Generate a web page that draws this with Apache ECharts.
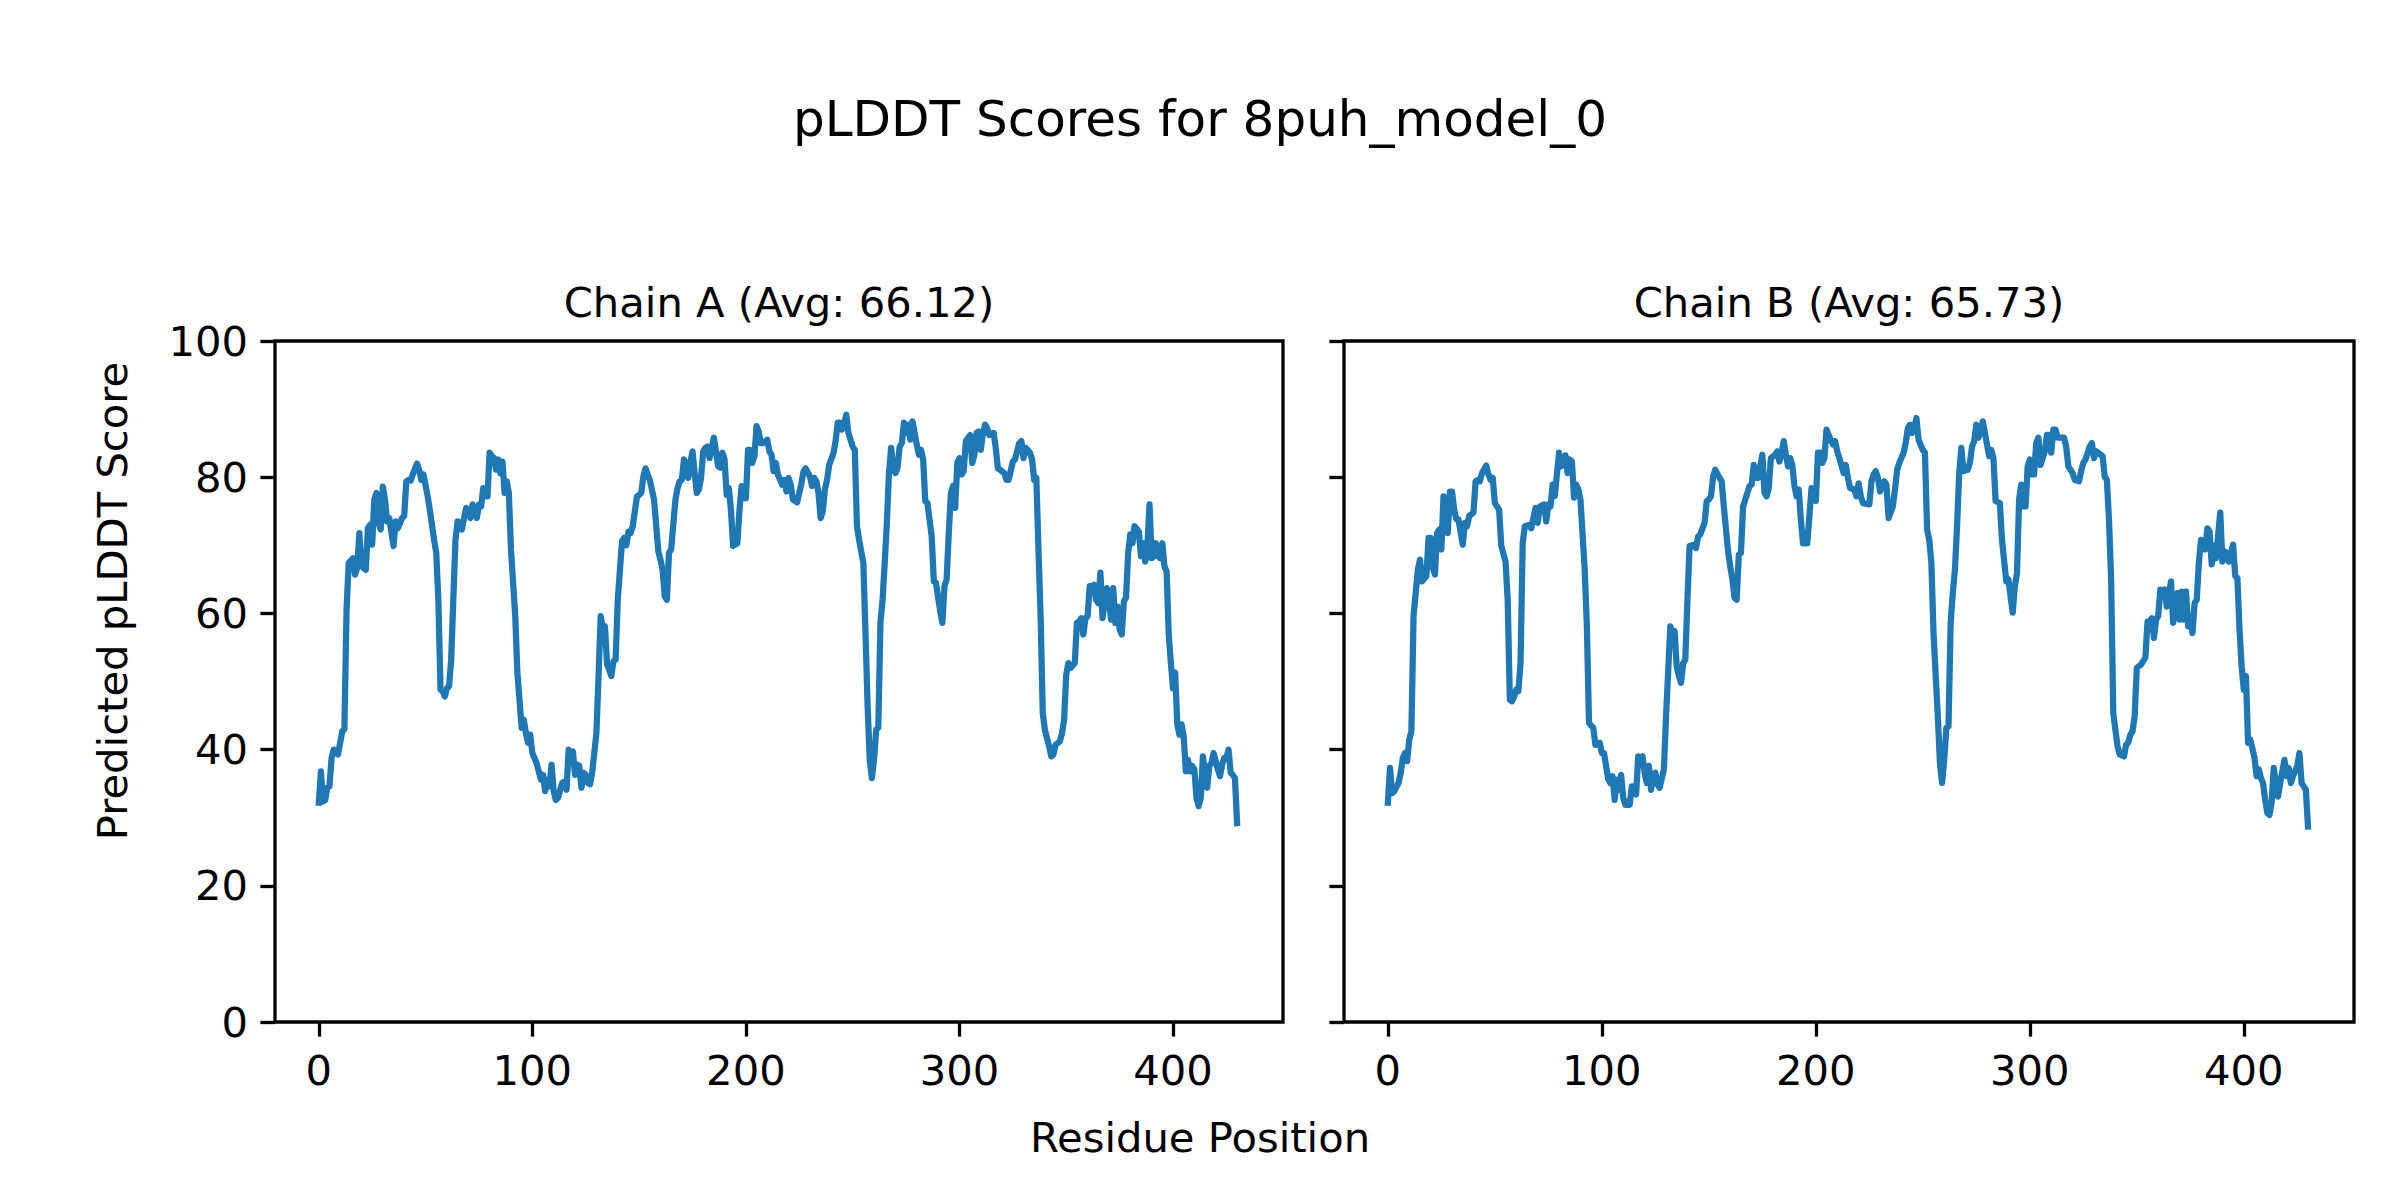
<!DOCTYPE html>
<html>
<head>
<meta charset="utf-8">
<script src="https://cdn.jsdelivr.net/npm/echarts@6/dist/echarts.min.js"></script>
<style>
html,body{margin:0;padding:0;background:#fff;}
#chart{width:2400px;height:1200px;}
</style>
</head>
<body>
<div id="chart"></div>
<script>
const figTitle = 'pLDDT Scores for 8puh_model_0';
const chainTitles = ['Chain A (Avg: 66.12)', 'Chain B (Avg: 65.73)'];
const xLabel = 'Residue Position';
const yLabel = 'Predicted pLDDT Score';
const xTicks = [0, 100, 200, 300, 400];
const yTicks = [0, 20, 40, 60, 80, 100];

// [residue position, pLDDT score]
const chainA = [[0,32.2],[1,36.8],[2,32.4],[3,32.6],[4,34.4],[5,34.6],[6,38.8],[7,40.0],[9,39.3],[11,42.7],[12,43.0],[13,60.5],[14,67.4],[16,68.1],[17,65.7],[18,66.7],[19,71.8],[20,66.9],[22,66.4],[23,72.5],[24,73.0],[25,70.1],[26,76.7],[27,77.7],[28,73.3],[29,72.3],[30,78.6],[31,76.7],[32,73.5],[33,74.0],[35,69.9],[36,73.5],[37,72.5],[39,74.0],[40,74.3],[41,79.4],[42,79.6],[43,79.5],[44,80.4],[46,82.0],[47,81.1],[48,79.6],[49,80.4],[51,77.2],[52,75.2],[54,70.8],[55,68.9],[56,62.0],[57,48.8],[58,48.6],[59,47.8],[60,49.0],[61,49.3],[62,53.2],[64,70.8],[65,73.5],[66,73.3],[67,72.3],[68,74.0],[69,75.5],[71,74.0],[72,76.0],[74,74.0],[75,76.0],[76,75.7],[77,78.4],[78,77.2],[79,77.2],[80,83.6],[81,83.1],[82,82.8],[83,81.1],[84,82.6],[85,80.6],[86,82.3],[87,77.7],[88,79.4],[89,77.7],[90,69.4],[92,59.6],[93,51.3],[95,43.2],[96,44.4],[97,42.4],[98,41.0],[99,42.2],[100,39.5],[102,38.0],[104,35.6],[105,36.3],[106,33.9],[107,35.6],[108,34.6],[109,37.8],[110,33.9],[111,32.6],[112,32.9],[114,35.1],[115,35.3],[116,34.1],[117,40.0],[118,39.5],[119,39.7],[120,36.3],[121,37.8],[122,37.6],[123,34.4],[124,36.6],[125,36.3],[126,35.1],[127,34.9],[128,36.6],[130,42.4],[131,50.8],[132,59.6],[133,57.9],[134,58.1],[135,52.5],[136,51.7],[137,50.8],[138,53.0],[139,53.2],[140,62.0],[142,70.6],[143,71.1],[144,70.0],[145,72.0],[146,71.8],[147,72.8],[149,77.2],[150,77.4],[151,77.7],[152,80.1],[153,81.3],[154,80.4],[155,79.6],[157,76.7],[159,69.1],[160,67.9],[161,66.4],[162,62.5],[163,62.0],[164,68.9],[165,69.4],[167,76.7],[168,78.4],[169,79.4],[170,79.6],[171,82.6],[172,81.8],[173,79.9],[174,82.1],[175,83.8],[176,80.6],[177,77.7],[178,78.2],[179,79.9],[180,83.8],[181,84.3],[182,84.5],[183,82.8],[184,84.3],[185,85.8],[186,83.8],[187,81.6],[188,81.4],[189,83.6],[190,82.6],[191,77.4],[192,78.4],[193,75.2],[194,69.9],[195,70.1],[196,70.3],[197,75.2],[198,78.7],[199,78.4],[200,76.9],[201,84.0],[202,84.0],[203,82.1],[204,83.1],[205,87.5],[206,86.7],[207,85.0],[208,85.0],[210,85.5],[211,83.8],[212,83.3],[213,80.9],[214,82.1],[215,80.4],[217,78.9],[218,79.6],[219,77.9],[220,79.9],[221,78.9],[222,76.7],[224,76.3],[226,79.1],[227,80.9],[228,81.3],[230,80.1],[231,78.7],[232,79.9],[233,79.4],[234,77.7],[235,74.0],[236,75.0],[237,78.2],[238,79.6],[239,81.8],[241,83.5],[242,85.3],[243,88.0],[244,88.0],[245,87.0],[246,87.7],[247,89.2],[248,86.5],[250,84.5],[251,84.0],[252,72.8],[253,70.8],[255,67.4],[256,57.1],[257,46.4],[258,38.5],[259,35.8],[260,38.5],[261,42.9],[262,43.2],[263,58.6],[264,62.0],[265,67.4],[266,73.3],[267,80.6],[268,84.3],[269,81.6],[270,80.6],[271,81.4],[272,84.5],[273,85.0],[274,88.0],[275,86.5],[276,87.7],[277,85.5],[278,88.2],[279,86.5],[280,84.8],[281,83.3],[282,84.0],[283,82.6],[284,76.5],[285,76.2],[287,71.3],[288,64.7],[289,64.5],[291,60.3],[292,58.6],[293,64.0],[294,65.0],[295,71.8],[296,77.7],[297,78.7],[298,75.5],[299,82.1],[300,82.8],[301,80.4],[302,80.9],[303,85.3],[305,86.2],[306,82.1],[307,83.3],[308,86.5],[309,86.7],[310,84.0],[311,86.5],[312,87.7],[313,87.2],[314,86.2],[316,86.5],[317,84.3],[318,81.3],[319,81.1],[321,80.6],[322,79.6],[323,79.6],[324,80.9],[325,82.3],[326,82.6],[328,85.0],[329,85.3],[330,82.8],[331,84.3],[332,84.0],[333,83.6],[334,82.6],[335,79.6],[336,79.9],[337,69.4],[338,59.6],[339,45.4],[340,42.9],[342,40.5],[343,39.0],[344,39.3],[345,40.7],[347,41.2],[348,42.4],[349,44.4],[350,51.0],[351,52.7],[352,52.0],[354,52.7],[355,58.6],[356,58.8],[357,59.3],[358,56.9],[359,59.3],[360,59.6],[361,64.0],[362,64.0],[363,64.2],[364,62.0],[365,61.5],[366,66.0],[367,59.3],[368,61.8],[369,63.7],[370,62.0],[371,59.1],[372,63.7],[373,58.6],[374,61.0],[375,57.6],[376,56.9],[377,61.8],[378,62.3],[379,68.9],[380,71.6],[381,70.3],[382,72.8],[384,72.0],[385,68.4],[386,70.3],[387,67.6],[388,69.9],[389,76.0],[390,68.1],[391,68.4],[392,70.3],[393,68.4],[394,68.1],[395,70.3],[396,66.9],[397,66.2],[398,56.9],[399,52.7],[400,49.0],[401,51.3],[402,43.7],[403,42.2],[404,43.7],[405,42.0],[406,36.8],[407,38.5],[408,36.8],[409,37.6],[410,37.1],[411,32.9],[412,31.7],[413,32.9],[414,39.0],[415,36.6],[416,34.4],[417,37.6],[418,38.0],[419,39.5],[421,37.1],[422,36.1],[423,37.8],[424,38.8],[425,38.8],[426,40.0],[427,36.6],[428,36.3],[429,35.8],[430,29.2]];

const chainB = [[0,32.2],[1,37.3],[2,33.6],[3,33.9],[5,35.1],[6,36.6],[7,38.8],[8,39.5],[9,38.3],[10,41.5],[11,42.7],[12,59.6],[14,66.4],[15,67.9],[16,64.7],[18,65.5],[19,71.1],[20,71.1],[21,66.7],[22,65.7],[23,71.8],[24,72.3],[25,69.4],[26,77.2],[27,72.8],[28,71.8],[29,77.9],[30,77.9],[31,75.2],[32,73.8],[33,73.8],[35,70.1],[36,73.3],[37,72.8],[38,74.3],[40,74.8],[41,79.4],[42,79.6],[43,79.4],[44,80.6],[46,81.7],[47,80.4],[48,79.6],[49,79.9],[50,76.2],[52,75.2],[53,69.9],[55,67.6],[56,62.0],[57,47.3],[58,47.1],[59,47.8],[60,48.8],[61,48.6],[62,52.7],[63,70.3],[64,72.8],[66,73.0],[67,72.5],[69,75.5],[70,73.3],[71,75.7],[73,76.0],[74,73.5],[75,76.0],[76,75.7],[77,78.9],[78,77.2],[79,80.4],[80,83.6],[81,81.6],[83,83.2],[84,80.6],[85,82.6],[86,82.3],[87,77.0],[88,78.9],[89,78.2],[90,76.7],[92,66.4],[93,58.1],[94,43.9],[96,43.2],[97,40.7],[99,41.0],[100,39.5],[101,39.5],[103,35.6],[104,35.1],[105,36.1],[106,32.6],[107,35.6],[108,34.1],[109,36.3],[110,32.9],[111,31.9],[113,31.9],[114,34.6],[115,34.6],[116,33.4],[117,39.0],[118,38.8],[119,39.0],[120,36.6],[121,35.1],[122,37.6],[123,34.1],[124,36.3],[125,36.6],[126,34.9],[127,34.4],[129,37.1],[130,44.9],[132,58.1],[133,57.1],[134,57.4],[135,52.2],[136,50.8],[137,49.8],[138,52.7],[139,53.2],[140,62.0],[141,69.9],[143,70.1],[144,69.6],[145,71.3],[146,71.6],[148,73.3],[149,76.5],[150,76.7],[151,77.2],[152,80.1],[153,81.1],[155,79.9],[156,79.4],[157,75.7],[159,69.1],[160,66.9],[161,65.0],[162,62.3],[163,62.0],[164,68.6],[165,68.9],[166,75.7],[168,77.7],[169,78.7],[170,78.9],[171,81.8],[172,79.9],[173,79.9],[175,83.3],[176,77.7],[177,77.2],[178,78.4],[179,82.8],[181,83.3],[182,83.8],[183,82.3],[184,83.6],[185,85.3],[186,83.3],[187,81.6],[188,82.8],[189,81.8],[190,78.7],[191,77.2],[192,78.2],[193,73.8],[194,70.3],[195,70.3],[196,70.3],[197,74.3],[198,78.4],[199,78.2],[200,76.5],[201,83.6],[202,83.6],[203,82.1],[204,82.8],[205,87.0],[206,86.2],[208,84.8],[209,85.3],[210,83.8],[211,82.8],[213,80.6],[214,81.8],[215,79.9],[216,78.4],[218,78.2],[219,77.2],[220,79.1],[221,77.2],[222,76.2],[225,76.0],[226,79.4],[227,80.4],[228,80.9],[229,79.9],[230,77.9],[232,79.4],[233,78.9],[234,74.0],[236,75.7],[237,78.2],[238,81.1],[239,82.1],[241,83.6],[242,85.0],[243,87.2],[244,87.7],[245,86.5],[246,87.2],[247,88.7],[248,85.5],[250,84.0],[251,83.6],[252,72.3],[253,70.8],[254,67.4],[255,57.1],[257,44.9],[258,38.0],[259,35.1],[260,38.5],[261,43.2],[262,43.4],[263,58.6],[264,63.0],[265,66.4],[266,72.8],[267,80.6],[268,84.3],[269,80.9],[271,81.1],[272,82.1],[273,84.5],[274,85.3],[275,87.7],[276,85.8],[277,86.7],[278,88.2],[279,86.5],[280,84.8],[281,83.1],[282,84.0],[283,82.8],[284,76.5],[286,76.2],[287,70.8],[289,64.7],[290,65.0],[291,62.5],[292,60.1],[293,64.0],[294,65.9],[295,76.7],[296,78.9],[297,75.7],[298,75.7],[299,81.6],[300,82.6],[301,80.4],[302,80.4],[303,85.0],[304,85.8],[305,81.8],[307,83.8],[308,86.2],[309,86.2],[310,83.6],[311,87.0],[312,87.0],[313,85.8],[316,85.8],[317,84.5],[318,81.6],[320,80.6],[321,79.6],[323,79.4],[324,80.9],[325,82.1],[326,82.6],[328,84.5],[329,85.0],[330,82.8],[331,83.8],[332,83.6],[334,83.1],[335,80.1],[336,79.6],[337,73.8],[338,65.0],[339,45.4],[340,42.9],[341,40.5],[342,39.3],[344,39.0],[345,40.7],[346,41.0],[347,42.2],[348,42.7],[349,44.9],[350,52.0],[352,52.5],[353,53.0],[354,53.5],[355,58.8],[356,58.8],[357,59.3],[358,56.4],[359,59.1],[360,59.6],[361,63.5],[362,63.2],[363,63.5],[364,61.0],[366,64.7],[367,58.6],[368,61.5],[369,63.0],[370,59.1],[371,63.2],[372,59.1],[373,63.2],[374,58.1],[375,59.6],[376,57.1],[377,61.5],[378,62.0],[379,67.4],[380,70.8],[382,69.4],[383,72.5],[384,72.0],[385,67.2],[386,69.9],[387,68.1],[389,74.8],[390,67.6],[391,69.1],[392,68.9],[393,67.6],[395,70.1],[396,65.5],[397,65.2],[398,57.6],[399,52.2],[400,48.8],[401,50.8],[402,41.0],[403,41.5],[404,40.2],[405,38.8],[406,36.1],[407,37.1],[408,35.8],[409,35.1],[410,32.6],[411,30.7],[412,30.4],[413,32.2],[414,37.3],[415,34.9],[416,33.1],[417,35.1],[419,38.5],[420,36.1],[421,37.3],[422,35.1],[423,36.1],[425,37.6],[426,39.5],[427,35.1],[428,34.6],[429,34.1],[430,28.7]];

const chains = [chainA, chainB];

const FONT = 'DejaVu Sans';
const LINE_COLOR = '#1f77b4';
const grids = [
  {left: 275, top: 341, width: 1008, height: 681},
  {left: 1344, top: 341, width: 1010, height: 681}
];

const chart = echarts.init(document.getElementById('chart'), null, {renderer: 'svg', width: 2400, height: 1200});

const option = {
  animation: false,
  backgroundColor: '#ffffff',
  grid: grids.map(g => Object.assign({show: true, borderColor: '#000', borderWidth: 3.3, backgroundColor: 'transparent', containLabel: false}, g)),
  xAxis: grids.map((g, i) => ({
    type: 'value', gridIndex: i, min: -20.5, max: 451.5, position: 'bottom',
    axisLine: {show: false, onZero: false},
    splitLine: {show: false},
    axisTick: {show: true, inside: false, length: 14.6, customValues: xTicks, lineStyle: {color: '#000', width: 3.3}},
    axisLabel: {show: true, customValues: xTicks, margin: 27, fontSize: 41.7, color: '#000', fontFamily: FONT}
  })),
  yAxis: grids.map((g, i) => ({
    type: 'value', gridIndex: i, min: 0, max: 100, interval: 20, position: 'left',
    axisLine: {show: false, onZero: false},
    splitLine: {show: false},
    axisTick: {show: true, inside: false, length: 14.6, lineStyle: {color: '#000', width: 3.3}},
    axisLabel: {show: i === 0, margin: 27, fontSize: 41.7, color: '#000', fontFamily: FONT}
  })),
  series: chains.map((d, i) => ({
    type: 'line', xAxisIndex: i, yAxisIndex: i,
    data: d, showSymbol: false, symbol: 'none',
    lineStyle: {color: LINE_COLOR, width: 6.25, join: 'round', cap: 'square'},
    emphasis: {disabled: true},
    z: 1
  })),
  graphic: [
    {type: 'text', x: 1200, y: 119, style: {text: figTitle, fontSize: 50, fontFamily: FONT, fill: '#000', textAlign: 'center', textVerticalAlign: 'middle'}},
    {type: 'text', x: grids[0].left + grids[0].width / 2, y: 302, style: {text: chainTitles[0], fontSize: 41.7, fontFamily: FONT, fill: '#000', textAlign: 'center', textVerticalAlign: 'middle'}},
    {type: 'text', x: grids[1].left + grids[1].width / 2, y: 302, style: {text: chainTitles[1], fontSize: 41.7, fontFamily: FONT, fill: '#000', textAlign: 'center', textVerticalAlign: 'middle'}},
    {type: 'text', x: 1200, y: 1137, style: {text: xLabel, fontSize: 41.7, fontFamily: FONT, fill: '#000', textAlign: 'center', textVerticalAlign: 'middle'}},
    {type: 'text', x: 112, y: 601, rotation: Math.PI / 2, style: {text: yLabel, fontSize: 41.7, fontFamily: FONT, fill: '#000', textAlign: 'center', textVerticalAlign: 'middle'}}
  ]
};
chart.setOption(option);
</script>
</body>
</html>
